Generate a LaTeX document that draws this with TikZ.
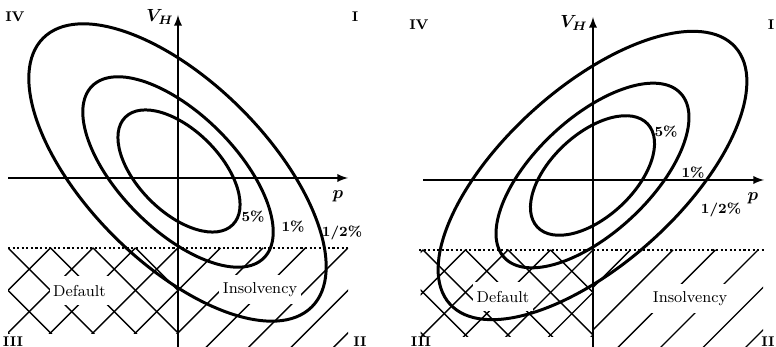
\documentclass[tikz,border=0pt]{standalone}
\usepackage{amsmath,amssymb}
\usepackage{tikz}

\begin{document}
\begin{tikzpicture}[
    x=1cm,
    y=1cm,
    axis/.style={
        line width=1.1pt,
        -latex
    },
    level/.style={
        line width=1.7pt
    },
    bound/.style={
        line width=1pt,
        dash pattern=on 1.2pt off 1.4pt
    },
    hatch/.style={
        line width=0.8pt
    },
    region/.style={
        fill=white,
        inner xsep=2pt,
        minimum height=0.58cm,
        font=\small
    },
    pct/.style={
        font=\footnotesize\bfseries
    },
    quad/.style={
        font=\footnotesize\bfseries
    },
    var/.style={
        font=\boldmath
    }
]

\useasboundingbox (0,0) rectangle (15.52,6.94);

% left panel
\begin{scope}[shift={(3.56,3.38)}]

\begin{scope}
    \clip (-3.4,-3.12) rectangle (0,-1.4);
    \foreach \x in {-5.1,-4.25,...,1.75}
    {
        \draw[hatch] (\x,-1.4) -- ++(2,-2);
        \draw[hatch] (\x,-1.4) -- ++(-2,-2);
    }
\end{scope}

\begin{scope}
    \clip (0,-3.4) rectangle (3.4,-1.4);
    \foreach \x in {0,0.85,...,5.2}
        \draw[hatch] (\x,-1.4) -- ++(-2.2,-2.2);
\end{scope}

\node[region] (defL) at (-1.97,-2.26) {Default};
\node[region] (insL) at (1.64,-2.24) {Insolvency};

\draw[level, shift={(0.02,0.14)}, rotate=-45] (0,0) ellipse (1.52 and 0.82);
\draw[level, shift={(0,0.12)}, rotate=-45] (0,0) ellipse (2.43 and 1.16);
\draw[level, shift={(-0.01,0.11)}, rotate=-45] (0,0) ellipse (3.8 and 1.8);

\coordinate (hL0) at (-3.4,0);
\coordinate (hL1) at (3.4,0);
\coordinate (vL0) at (0,-3.4);
\coordinate (vL1) at (0,3.26);
\coordinate (dL0) at (-3.4,-1.4);
\coordinate (dL1) at (3.4,-1.4);

\draw[axis] (hL0) -- (hL1);
\draw[axis] (vL0) -- (vL1);
\draw[bound] (dL0) -- (dL1);

\node[var] (vhL) at (-0.36,3.22) {$V_H$};
\node[var] (pL) at (3.2,-0.36) {$p$};
\node[pct] (fiveL) at (1.5,-0.78) {5\%};
\node[pct] (oneL) at (2.3,-0.98) {1\%};
\node[pct] (halfL) at (3.28,-1.1) {1/2\%};
\node[quad] (qivL) at (-3.26,3.22) {IV};
\node[quad] (qiL) at (3.54,3.22) {I};
\node[quad] (qiiiL) at (-3.3,-3.27) {III};
\node[quad] (qiiL) at (3.64,-3.27) {II};

\end{scope}

% right panel
\begin{scope}[shift={(11.86,3.34)}]

\begin{scope}
    \clip (-3.45,-3.14) rectangle (0,-1.4);
    \foreach \x in {-5.1,-4.25,...,1.75}
    {
        \draw[hatch] (\x,-1.4) -- ++(2,-2);
        \draw[hatch] (\x,-1.4) -- ++(-2,-2);
    }
\end{scope}

\begin{scope}
    \clip (0,-3.4) rectangle (3.4,-1.4);
    \foreach \x in {0.75,1.6,...,5.2}
        \draw[hatch] (\x,-1.4) -- ++(-2.2,-2.2);
\end{scope}

\node[region] (defR) at (-1.8,-2.34) {Default};
\node[region] (insR) at (1.94,-2.38) {Insolvency};

\draw[level, shift={(-0.01,0.09)}, rotate=43] (0,0) ellipse (1.51 and 0.83);
\draw[level, shift={(-0.01,0.09)}, rotate=43] (0,0) ellipse (2.41 and 1.15);
\draw[level, shift={(-0.01,0.09)}, rotate=42] (0,0) ellipse (3.84 and 1.76);

\coordinate (hR0) at (-3.4,0);
\coordinate (hR1) at (3.42,0);
\coordinate (vR0) at (0,-3.4);
\coordinate (vR1) at (0,3.26);
\coordinate (dR0) at (-3.48,-1.4);
\coordinate (dR1) at (3.42,-1.4);

\draw[axis] (hR0) -- (hR1);
\draw[axis] (vR0) -- (vR1);
\draw[bound] (dR0) -- (dR1);

\node[var] (vhR) at (-0.38,3.14) {$V_H$};
\node[var] (pR) at (3.2,-0.36) {$p$};
\node[pct] (fiveR) at (1.46,0.96) {5\%};
\node[pct] (oneR) at (2.0,0.14) {1\%};
\node[pct] (halfR) at (2.56,-0.6) {1/2\%};
\node[quad] (qivR) at (-3.48,3.1) {IV};
\node[quad] (qiR) at (3.56,3.1) {I};
\node[quad] (qiiiR) at (-3.44,-3.23) {III};
\node[quad] (qiiR) at (3.5,-3.23) {II};

\end{scope}

\end{tikzpicture}
\end{document}
